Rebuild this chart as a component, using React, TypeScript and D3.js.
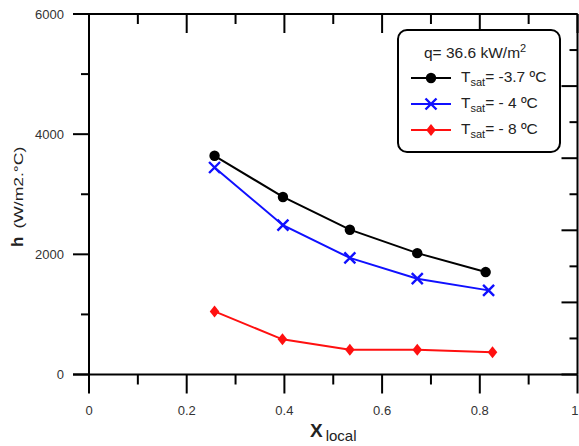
import React, { useEffect, useRef } from "react";
import * as d3 from "d3";

const xLocal = [0.257, 0.397, 0.534, 0.672, 0.812];
const xLocalBlue = [0.257, 0.397, 0.534, 0.672, 0.818];
const xLocalRed = [0.257, 0.396, 0.534, 0.672, 0.826];
const hBlack = [3640, 2955, 2410, 2020, 1705];
const hBlue = [3445, 2485, 1940, 1595, 1400];
const hRed = [1050, 585, 412, 410, 372];

const xTicks = [0, 0.2, 0.4, 0.6, 0.8, 1];
const xTickLabels = ["0", "0.2", "0.4", "0.6", "0.8", "1"];
const yTicks = [0, 2000, 4000, 6000];

const seriesNames = ["-3.7 ºC", "- 4 ºC", "- 8 ºC"];
const seriesColors = ["#000000", "#1010ff", "#ff1010"];
const legendTitle = "q= 36.6 kW/m";

export default function App() {
  const ref = useRef<SVGSVGElement>(null);

  useEffect(() => {
    const svg = d3.select(ref.current);
    svg.selectAll("*").remove();

    const width = 579;
    const height = 446;
    const left = 89, right = 577.5, top = 14, bottom = 374.5;
    const font = "'Liberation Sans', Arial, sans-serif";

    svg.attr("width", width).attr("height", height);

    const x = d3.scaleLinear().domain([0, 1]).range([left, right]);
    const y = d3.scaleLinear().domain([0, 6000]).range([bottom, top]);

    const g = svg.append("g");
    const axisColor = "#000";

    // frame
    g.append("line").attr("x1", left).attr("x2", left).attr("y1", top).attr("y2", bottom)
      .attr("stroke", axisColor).attr("stroke-width", 2);
    g.append("line").attr("x1", right).attr("x2", right).attr("y1", top).attr("y2", bottom)
      .attr("stroke", axisColor).attr("stroke-width", 2);
    g.append("line").attr("x1", left - 16).attr("x2", right).attr("y1", top).attr("y2", top)
      .attr("stroke", axisColor).attr("stroke-width", 2);
    g.append("line").attr("x1", left - 16).attr("x2", right).attr("y1", bottom).attr("y2", bottom)
      .attr("stroke", axisColor).attr("stroke-width", 2);

    // x ticks (bottom out, top in)
    const xMinor = d3.range(0, 1.0001, 0.1);
    xMinor.forEach((v, i) => {
      const major = i % 2 === 0;
      const px = x(v);
      g.append("line").attr("x1", px).attr("x2", px)
        .attr("y1", bottom).attr("y2", bottom + (major ? 19 : 10))
        .attr("stroke", axisColor).attr("stroke-width", 2);
      g.append("line").attr("x1", px).attr("x2", px)
        .attr("y1", top).attr("y2", top + (major ? 19 : 10))
        .attr("stroke", axisColor).attr("stroke-width", 2);
    });

    // last label sits on the page edge; keep it inside
    g.selectAll(".xlab").data(xTicks).join("text")
      .attr("x", d => (d === 1 ? width - 0.5 : x(d))).attr("y", 415)
      .attr("text-anchor", d => (d === 1 ? "end" : "middle"))
      .attr("font-family", font).attr("font-size", 13).attr("fill", "#333")
      .text((d, i) => xTickLabels[i]);

    // left ticks (out)
    d3.range(0, 6001, 1000).forEach((v, i) => {
      const major = i % 2 === 0;
      g.append("line").attr("x1", left - (major ? 16 : 8)).attr("x2", left)
        .attr("y1", y(v)).attr("y2", y(v))
        .attr("stroke", axisColor).attr("stroke-width", 2);
    });
    g.selectAll(".ylab").data(yTicks).join("text")
      .attr("x", 64).attr("y", d => y(d) + 4.5)
      .attr("text-anchor", "end")
      .attr("font-family", font).attr("font-size", 13).attr("fill", "#333")
      .text(d => d3.format("d")(d));

    // right ticks (in)
    d3.range(0, 6001, 600).forEach((v, i) => {
      const major = i % 2 === 0;
      g.append("line").attr("x1", right - (major ? 16 : 8)).attr("x2", right)
        .attr("y1", y(v)).attr("y2", y(v))
        .attr("stroke", axisColor).attr("stroke-width", 2);
    });

    // axis titles
    const yt = svg.append("text")
      .attr("transform", "translate(23,247) rotate(-90)")
      .attr("font-family", font).attr("fill", "#222");
    yt.append("tspan").attr("font-weight", "bold").attr("font-size", 17).text("h");
    yt.append("tspan").attr("font-size", 13).attr("dx", 8)
      .attr("textLength", 82).attr("lengthAdjust", "spacingAndGlyphs").text("(W/m2.°C)");

    const xt = svg.append("text").attr("x", 310).attr("y", 437)
      .attr("font-family", font).attr("fill", "#222");
    xt.append("tspan").attr("font-weight", "bold").attr("font-size", 19).text("X");
    xt.append("tspan").attr("font-size", 15).attr("dx", 3).attr("dy", 4).text("local");

    // data
    const series = [
      { xs: xLocal, ys: hBlack, color: seriesColors[0], marker: "circle" },
      { xs: xLocalBlue, ys: hBlue, color: seriesColors[1], marker: "cross" },
      { xs: xLocalRed, ys: hRed, color: seriesColors[2], marker: "diamond" },
    ];
    const line = d3.line<[number, number]>().x(d => x(d[0])).y(d => y(d[1]));

    const drawMarker = (sel: any, kind: string, cx: number, cy: number, color: string) => {
      if (kind === "circle") {
        sel.append("circle").attr("cx", cx).attr("cy", cy).attr("r", 5.2).attr("fill", color);
      } else if (kind === "cross") {
        const s = 5.5;
        sel.append("path")
          .attr("d", `M${cx - s},${cy - s}L${cx + s},${cy + s}M${cx - s},${cy + s}L${cx + s},${cy - s}`)
          .attr("stroke", color).attr("stroke-width", 2.4).attr("fill", "none");
      } else {
        const s = 6;
        sel.append("path")
          .attr("d", `M${cx},${cy - s}L${cx + s * 0.8},${cy}L${cx},${cy + s}L${cx - s * 0.8},${cy}Z`)
          .attr("fill", color);
      }
    };

    series.forEach(s => {
      const pts = s.xs.map((v, i) => [v, s.ys[i]] as [number, number]);
      g.append("path").attr("d", line(pts)).attr("fill", "none")
        .attr("stroke", s.color).attr("stroke-width", 2);
      pts.forEach(p => drawMarker(g, s.marker, x(p[0]), y(p[1]), s.color));
    });

    // legend
    const lg = svg.append("g");
    lg.append("rect").attr("x", 398).attr("y", 30).attr("width", 162).attr("height", 122)
      .attr("rx", 9).attr("fill", "#fff").attr("stroke", "#000").attr("stroke-width", 2);
    const title = lg.append("text").attr("x", 424).attr("y", 58)
      .attr("font-family", font).attr("font-size", 15.5).attr("fill", "#222");
    title.append("tspan").text(legendTitle);
    title.append("tspan").attr("font-size", 11).attr("dy", -6).text("2");

    series.forEach((s, i) => {
      const ry = 78 + i * 26;
      lg.append("line").attr("x1", 411).attr("x2", 451).attr("y1", ry).attr("y2", ry)
        .attr("stroke", s.color).attr("stroke-width", 2);
      drawMarker(lg, s.marker, 431, ry, s.color);
      const t = lg.append("text").attr("x", 461).attr("y", ry + 4)
        .attr("font-family", font).attr("font-size", 15.5).attr("fill", "#222");
      t.append("tspan").text("T");
      t.append("tspan").attr("font-size", 11).attr("dy", 4).text("sat");
      t.append("tspan").attr("dy", -4).text("= " + seriesNames[i]);
    });
  }, []);

  return (
    <svg ref={ref} style={{ position: "absolute", left: 0, top: 0 }}></svg>
  );
}
